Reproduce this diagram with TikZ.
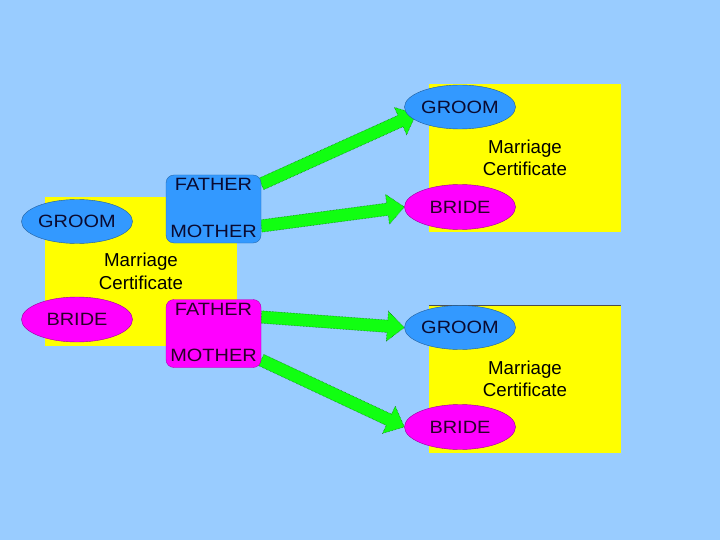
\documentclass[tikz,border=0pt]{standalone}
\usepackage{fontspec}
\setmainfont{Liberation Sans}
\usetikzlibrary{shapes.geometric,calc}
\definecolor{bgblue}{HTML}{99CCFF}
\definecolor{certyellow}{HTML}{FFFF00}
\definecolor{groomblue}{HTML}{3399FF}
\definecolor{bridepink}{HTML}{FF00FF}
\definecolor{arrowgreen}{HTML}{11FF11}
\definecolor{inkblue}{HTML}{0A0A30}
\definecolor{inkpurple}{HTML}{2A002A}
\pgfdeclarelayer{back}
\pgfdeclarelayer{mid}
\pgfsetlayers{back,mid,main}
\newcommand{\lab}[1]{\scalebox{1.12}[1]{#1}}
\newcommand{\fatarrow}[2]{%
  \coordinate (aS) at (#1);
  \coordinate (aT) at (#2);
  \coordinate (aB) at ($(aT)!17pt!(aS)$);
  \draw[fatarrowstyle] ($(aS)!6.2pt!90:(aT)$) -- ($(aB)!6.2pt!90:(aT)$) -- ($(aB)!15pt!90:(aT)$) -- (aT)
    -- ($(aB)!15pt!-90:(aT)$) -- ($(aB)!6.2pt!-90:(aT)$) -- ($(aS)!6.2pt!-90:(aT)$) -- cycle;}
\tikzset{
  cert/.style={rectangle, fill=certyellow, minimum width=192pt, minimum height=148pt, inner sep=0pt,
    align=center, font=\fontsize{18.7}{22.5}\selectfont, text=black},
  groomell/.style={ellipse, fill=groomblue, draw=groomblue!60!black, line width=0.4pt,
    minimum width=111pt, minimum height=44pt, inner sep=0pt, text=inkblue, font=\fontsize{17.8}{21}\selectfont},
  brideell/.style={ellipse, fill=bridepink, draw=bridepink!60!black, line width=0.4pt,
    minimum width=111pt, minimum height=45pt, inner sep=0pt, text=inkpurple, font=\fontsize{17.8}{21}\selectfont},
  parentbox/.style={rectangle, rounded corners=8pt, minimum width=95pt, minimum height=68pt, inner sep=0pt, line width=0.4pt},
  parenttext/.style={inner sep=0pt, font=\fontsize{17.8}{21}\selectfont},
  fatarrowstyle/.style={fill=arrowgreen, draw=black!60!green, densely dotted, line width=0.5pt, line join=miter},
}
\begin{document}
\begin{tikzpicture}[x=1pt, y=-1pt]
\useasboundingbox (0,0) rectangle (720,540);

% background and certificates
\begin{pgfonlayer}{back}
\fill[bgblue] (0,0) rectangle (720,540);
\node[cert] (c1) at (141,271.5) {Marriage\\Certificate};
\node[cert] (c2) at (525,158) {Marriage\\Certificate};
\node[cert] (c3) at (525,379) {Marriage\\Certificate};
\draw[black!70, line width=0.6pt] (c3.north west) -- (c3.north east);
\end{pgfonlayer}

% left certificate persons
\node[groomell] (g1) at (77,221.5) {\lab{GROOM}};
\node[brideell] (b1) at (77,319.5) {\lab{BRIDE}};

% parents boxes
\node[parentbox, fill=groomblue, draw=groomblue!70!black] (fb) at (213.5,209) {};
\node[parenttext, text=inkblue] (fbf) at (213.5,184.5) {\lab{FATHER}};
\node[parenttext, text=inkblue] (fbm) at (213.5,231) {\lab{MOTHER}};
\node[parentbox, fill=bridepink, draw=bridepink!70!black] (mb) at (213.5,333.5) {};
\node[parenttext, text=inkpurple] (mbf) at (213.5,309) {\lab{FATHER}};
\node[parenttext, text=inkpurple] (mbm) at (213.5,355) {\lab{MOTHER}};

% right certificates persons
\node[groomell] (g2) at (460,107) {\lab{GROOM}};
\node[brideell] (b2) at (460,207) {\lab{BRIDE}};
\node[groomell] (g3) at (460,327.5) {\lab{GROOM}};
\node[brideell] (b3) at (460,427) {\lab{BRIDE}};

% arrows
\begin{pgfonlayer}{mid}
\fatarrow{[yshift=25pt]fb.east}{[xshift=-44pt,yshift=-7pt]g2.center}
\fatarrow{[yshift=-17pt]fb.east}{b2.west}
\fatarrow{[yshift=16.5pt]mb.east}{g3.west}
\fatarrow{[yshift=-26.5pt]mb.east}{b3.west}
\end{pgfonlayer}
\end{tikzpicture}
\end{document}
